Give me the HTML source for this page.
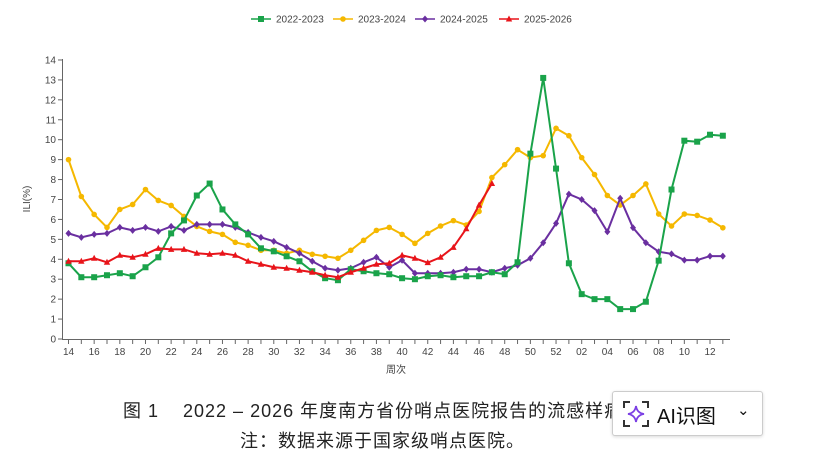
<!DOCTYPE html>
<html><head><meta charset="utf-8"><style>
body{margin:0;background:#fff;width:829px;height:470px;overflow:hidden;position:relative;font-family:"Liberation Sans","Noto Sans CJK SC",sans-serif}
svg{position:absolute;left:0;top:0}
.cap{position:absolute;font-size:18px;letter-spacing:1px;color:#222;white-space:nowrap;font-family:"Liberation Sans","Noto Sans CJK SC",sans-serif}
.box{position:absolute;left:612px;top:391px;width:149px;height:43px;border:1px solid #ccc;border-radius:3px;background:#fff;box-shadow:0 1px 3px rgba(0,0,0,.15);font-size:20px;color:#111}
</style></head><body>
<svg id="c" width="829" height="470" xmlns="http://www.w3.org/2000/svg"></svg>
<div class="cap" style="left:123px;top:397px">图 1&nbsp;&nbsp;&nbsp; 2022 – 2026 年度南方省份哨点医院报告的流感样病例</div>
<div class="cap" style="left:240px;top:427px">注：数据来源于国家级哨点医院。</div>
<div class="box">
<svg width="30" height="30" style="left:8px;top:7px"><path d="M3 9V3H9M21 3H27V9M27 21V27H21M9 27H3V21" fill="none" stroke="#333" stroke-width="2"/><path d="M15 7Q16 14 23 15Q16 16 15 23Q14 16 7 15Q14 14 15 7Z" fill="none" stroke="#7b3fe4" stroke-width="1.8"/></svg>
<span style="position:absolute;left:44px;top:8px">AI识图</span>
<span style="position:absolute;left:124px;top:9px;font-size:15px">⌄</span>
</div>
<script>
const G=[3.8,3.1,3.1,3.2,3.3,3.15,3.6,4.1,5.3,5.95,7.2,7.8,6.5,5.75,5.25,4.55,4.4,4.15,3.9,3.4,3.05,2.95,3.5,3.4,3.3,3.25,3.05,3.0,3.15,3.2,3.1,3.15,3.15,3.35,3.25,3.85,9.3,13.1,8.55,3.8,2.25,2.0,2.0,1.5,1.5,1.87,3.93,7.5,9.95,9.9,10.25,10.2];
const Y=[9.0,7.15,6.25,5.6,6.5,6.75,7.5,6.95,6.7,6.15,5.65,5.4,5.25,4.85,4.7,4.45,4.45,4.3,4.45,4.25,4.15,4.05,4.45,4.95,5.45,5.6,5.25,4.8,5.3,5.67,5.94,5.72,6.4,8.1,8.75,9.5,9.1,9.2,10.57,10.2,9.1,8.25,7.2,6.72,7.2,7.78,6.27,5.67,6.27,6.2,5.97,5.58];
const P=[5.3,5.1,5.25,5.3,5.6,5.45,5.6,5.4,5.65,5.45,5.75,5.75,5.75,5.6,5.35,5.1,4.9,4.6,4.3,3.9,3.55,3.45,3.55,3.85,4.1,3.6,3.95,3.3,3.3,3.3,3.35,3.5,3.5,3.35,3.55,3.7,4.05,4.83,5.8,7.27,7.0,6.44,5.38,7.06,5.58,4.83,4.38,4.27,3.96,3.96,4.16,4.16];
const R=[3.9,3.9,4.05,3.85,4.2,4.1,4.25,4.55,4.5,4.5,4.3,4.25,4.3,4.2,3.9,3.75,3.6,3.55,3.45,3.35,3.2,3.1,3.35,3.55,3.75,3.8,4.2,4.05,3.83,4.1,4.6,5.53,6.72,7.8];
const X=i=>68.5+i*12.83, V=v=>339-v*19.93;
let s='';
s+='<line x1="62.5" y1="59" x2="62.5" y2="339.5" stroke="#666"/><line x1="62" y1="339.5" x2="730" y2="339.5" stroke="#666"/>';
for(let v=0;v<=14;v++){const y=V(v);s+=`<line x1="58" x2="62" y1="${y}" y2="${y}" stroke="#666"/><text x="56" y="${y+3.5}" font-size="10" text-anchor="end" fill="#444">${v}</text>`;}
for(let i=0;i<52;i++){const x=X(i);s+=`<line x1="${x}" x2="${x}" y1="340" y2="344" stroke="#666"/>`;if(i%2==0){let w=i<39?14+i:i-38;s+=`<text x="${x}" y="355" font-size="10" text-anchor="middle" fill="#444">${String(w).padStart(2,'0')}</text>`;}}
s+='<text x="396" y="373" font-size="10" text-anchor="middle" fill="#444">周次</text>';
s+='<text transform="translate(30,199) rotate(-90)" font-size="10" text-anchor="middle" fill="#444">ILI(%)</text>';
function mk(t,x,y,c){if(t=='s')return `<rect x="${x-3}" y="${y-3}" width="6" height="6" fill="${c}"/>`;if(t=='c')return `<circle cx="${x}" cy="${y}" r="2.8" fill="${c}"/>`;if(t=='d')return `<path d="M${x} ${y-3.5}L${x+3} ${y}L${x} ${y+3.5}L${x-3} ${y}Z" fill="${c}"/>`;return `<path d="M${x} ${y-3.5}L${x+3.2} ${y+2.5}L${x-3.2} ${y+2.5}Z" fill="${c}"/>`;}
function ser(d,c,t){s+=`<polyline fill="none" stroke="${c}" stroke-width="2" points="${d.map((v,i)=>X(i)+','+V(v)).join(' ')}"/>`;d.forEach((v,i)=>s+=mk(t,X(i),V(v),c));}
ser(Y,'#f5b800','c');ser(P,'#6a2fa0','d');ser(G,'#1aa34a','s');ser(R,'#e8141a','t');
const L=[['2022-2023','#1aa34a','s',251],['2023-2024','#f5b800','c',333],['2024-2025','#6a2fa0','d',415],['2025-2026','#e8141a','t',499]];
L.forEach(([n,c,t,x])=>{s+=`<line x1="${x}" x2="${x+20}" y1="19" y2="19" stroke="${c}" stroke-width="1.5"/>`+mk(t,x+10,19,c)+`<text x="${x+25}" y="22.5" font-size="10" fill="#444">${n}</text>`;});
document.getElementById('c').innerHTML=s;
</script>
</body></html>
